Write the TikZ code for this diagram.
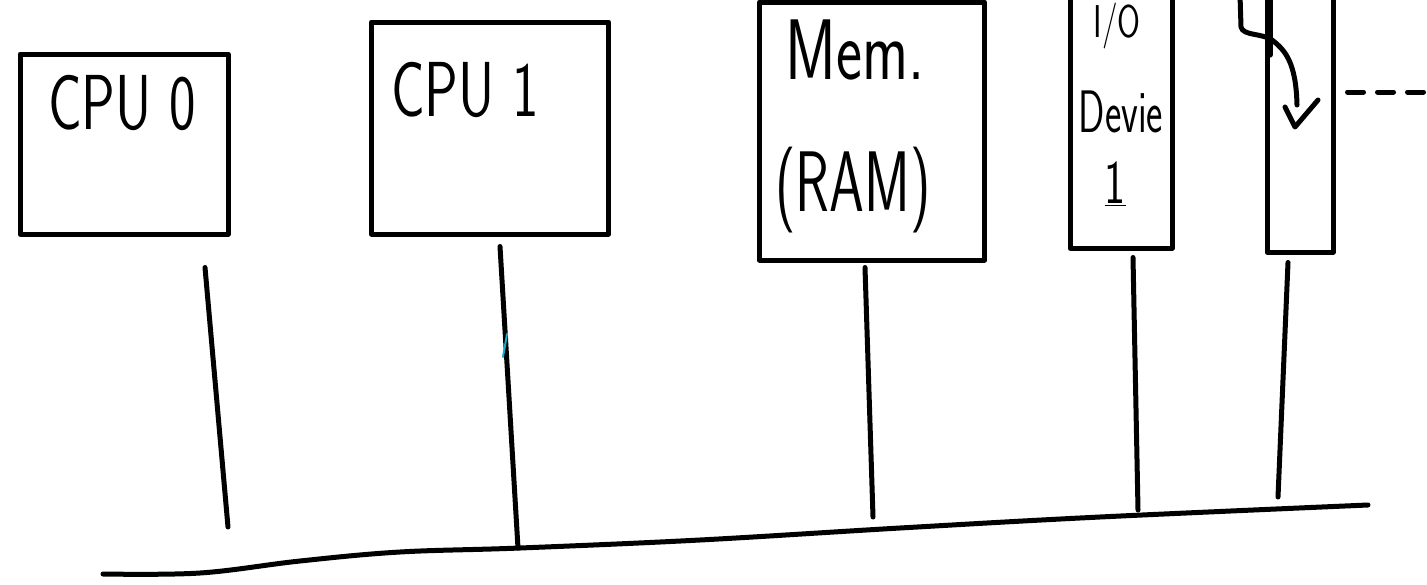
\documentclass[tikz,border=0pt]{standalone}
\usepackage{fontspec}
\definecolor{stray}{RGB}{20,170,200}
\begin{document}
\begin{tikzpicture}[x=1pt, y=-1pt,
    pen/.style={line width=5pt, line cap=round, line join=round},
    unit/.style={draw, pen, rectangle, inner sep=0pt},
    hand/.style={font=\sffamily\fontsize{#1}{#1}\selectfont, xscale=0.72, inner sep=0pt},
    hand/.default=78]
    \useasboundingbox (0,0) rectangle (1427,584);
    \clip (0,0) rectangle (1427,584);

    \node[unit, minimum width=208pt, minimum height=180pt] (cpu0) at (124,144) {};
    \node[unit, minimum width=237pt, minimum height=212pt] (cpu1) at (490,128) {};
    \node[unit, minimum width=225pt, minimum height=258pt] (mem) at (872,131) {};
    \node[unit, minimum width=102pt, minimum height=268pt] (io) at (1121,114) {};
    \node[unit, minimum width=66pt, minimum height=272pt] (dev) at (1300,116) {};

    \node[hand] (cpu0txt) at (122,103) {CPU 0};
    \node[hand] (cpu1txt) at (465,90) {CPU 1};
    \node[hand=86] (memtxt) at (855,50) {Mem.};
    \node[hand=86, xscale=0.9] (ramtxt) at (853,190) {(RAM)};
    \node[hand=46] (iotxt) at (1117,26) {I/O};
    \node[hand=60, xscale=0.9] (devtxt) at (1121,112) {Devie};
    \node[hand=62] (onetxt) at (1115,184) {\underline{1}};

    \draw[pen] plot[smooth, tension=0.6] coordinates
        {(103,574) (200,573) (300,561) (400,552) (520,548) (700,540)
         (900,528) (1100,517) (1368,505)};

    \coordinate (cpu0end) at (228,527);
    \coordinate (bus1) at (518,548);
    \coordinate (memend) at (873,517);
    \coordinate (ioend) at (1138,510);
    \coordinate (devend) at (1278,497);

    \draw[pen] ([shift={(81,31)}]cpu0.south) -- (cpu0end);
    \draw[pen] ([shift={(10,10)}]cpu1.south) -- (bus1);
    \draw[pen] ([shift={(-7,5)}]mem.south) -- (memend);
    \draw[pen] ([shift={(12,7)}]io.south) -- (ioend);
    \draw[pen] ([shift={(-12,8)}]dev.south) -- (devend);

    \coordinate (flowin) at (1240,-5);
    \coordinate (flowtip) at (1295,127);
    \draw[pen] (flowin) -- (1241,27) .. controls (1243,36) and (1262,33) .. (1272,40)
        .. controls (1285,50) and (1296,62) .. (1297,105);
    \draw[pen] (1285,107) -- (flowtip) -- (1318,100);
    \draw[pen] (1270,-5) -- (1270,55);

    \coordinate (more) at (1425,92);
    \draw[pen, dash pattern=on 16pt off 14pt] ([shift={(12,-24)}]dev.east) -- (more);

    \draw[line width=2pt, stray, line cap=round] (507,334) -- (503,357);
\end{tikzpicture}
\end{document}
